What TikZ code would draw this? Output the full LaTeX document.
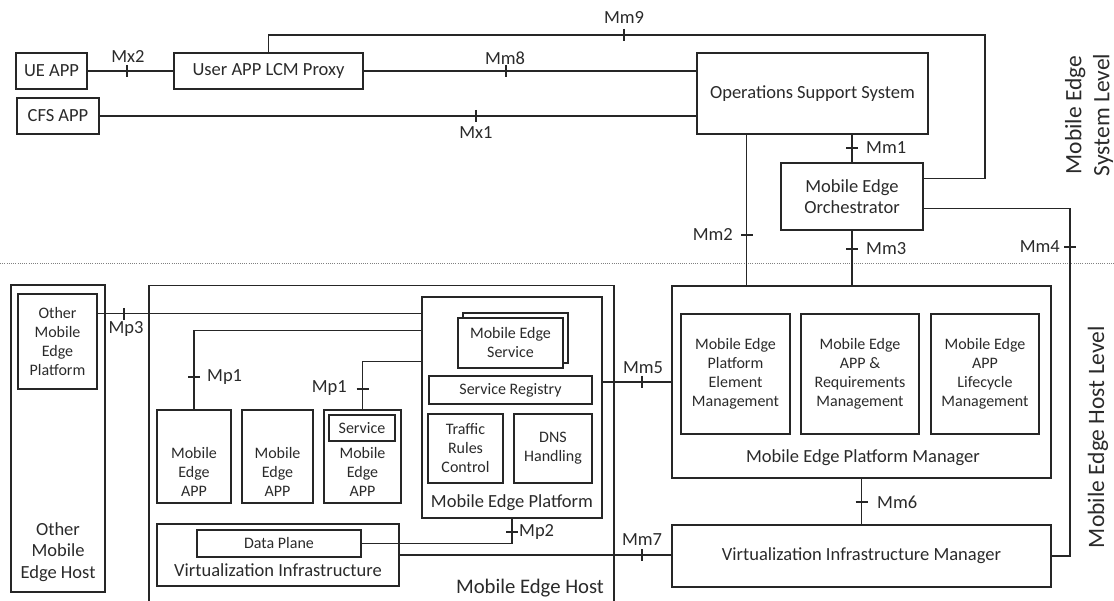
\documentclass[tikz,border=0pt]{standalone}
\usepackage{fontspec}
\setmainfont{Carlito}
\usetikzlibrary{calc}
\definecolor{ln}{HTML}{262626}
\definecolor{tx}{HTML}{2A2A2A}
\newcommand\fmain{\fontsize{18.5}{21.5}\selectfont}
\newcommand\finn{\fontsize{16}{19}\selectfont}
\newcommand\fhost{\fontsize{20.7}{24}\selectfont}
\newcommand\fside{\fontsize{23.5}{28}\selectfont}
\begin{document}
\begin{tikzpicture}[x=1pt,y=-1pt,
  box/.style={draw=ln, line width=1.5pt, rectangle, inner sep=0pt, align=center, text=tx, font=\fmain},
  ibox/.style={box, font=\finn},
  wire/.style={draw=ln, line width=1.4pt},
  tk/.style={draw=ln, line width=1.4pt},
  lbl/.style={text=tx, inner sep=0pt, font=\fmain, align=center}
]
\useasboundingbox (0,0) rectangle (1114,601);
\clip (0,0) rectangle (1114,601);

% ---------- system level ----------
\node[box, minimum width=71, minimum height=36] (ue) at (51.5,71) {UE APP};
\node[box, minimum width=189, minimum height=36] (proxy) at (268.5,71) {User APP LCM Proxy};
\node[box, minimum width=82, minimum height=36] (cfs) at (58,116) {CFS APP};
\node[box, minimum width=231, minimum height=81] (oss) at (812.5,93.5) {Operations Support System};
\node[box, minimum width=142, minimum height=67] (meo) at (852,196.5) {Mobile Edge\\Orchestrator};

% dotted separator
\draw[gray, line width=0.9pt, dash pattern=on 1pt off 1.2pt] (0,263) -- (1114,263);

% ---------- host level ----------
\node[box, minimum width=94, minimum height=307] (oh) at (58,438.5) {};
\node[lbl] (oht) at (58,552) {Other\\Mobile\\Edge Host};
\node[ibox, minimum width=79, minimum height=95] (omep) at (57.5,341.5) {Other\\Mobile\\Edge\\Platform};

\node[box, minimum width=465, minimum height=330, anchor=north west] (meh) at (148,285) {};
\node[lbl, font=\fhost] (meht) at (530,588) {Mobile Edge Host};

\node[box, minimum width=180, minimum height=221] (mep) at (512,407.5) {};
\node[lbl] (mept) at (512,503) {Mobile Edge Platform};
\node[ibox, minimum width=105, minimum height=50] (mesb) at (515.5,338) {};
\node[ibox, fill=white, minimum width=105, minimum height=50] (mes) at (510.5,343) {Mobile Edge\\Service};
\node[ibox, minimum width=163, minimum height=28] (sr) at (510.5,390) {Service Registry};
\node[ibox, minimum width=75, minimum height=69] (trc) at (465.5,448.5) {Traffic\\Rules\\Control};
\node[ibox, minimum width=78, minimum height=69] (dns) at (553,448.5) {DNS\\Handling};

\node[box, minimum width=74, minimum height=93] (app1) at (194,456.5) {};
\node[box, minimum width=71, minimum height=93] (app2) at (277.5,456.5) {};
\node[box, minimum width=77, minimum height=93] (app3) at (362.5,456.5) {};
\node[lbl, font=\finn] (a1t) at (194,472) {Mobile\\Edge\\APP};
\node[lbl, font=\finn] (a2t) at (277.5,472) {Mobile\\Edge\\APP};
\node[lbl, font=\finn] (a3t) at (362.5,472) {Mobile\\Edge\\APP};
\node[ibox, minimum width=66, minimum height=26] (svc) at (362,428) {Service};

\node[box, minimum width=242, minimum height=62] (vi) at (278,555) {};
\node[ibox, minimum width=164, minimum height=27] (dp) at (279,543.5) {Data Plane};
\node[lbl] (vit) at (278,570) {Virtualization Infrastructure};

\node[box, minimum width=379, minimum height=192] (mepm) at (861.5,382) {};
\node[ibox, minimum width=109, minimum height=120] (pem) at (735.5,374) {Mobile Edge\\Platform\\Element\\Management};
\node[ibox, minimum width=118, minimum height=120] (arm) at (860,374) {Mobile Edge\\APP \&\\Requirements\\Management};
\node[ibox, minimum width=108, minimum height=120] (alm) at (985,374) {Mobile Edge\\APP\\Lifecycle\\Management};
\node[lbl] (mepmt) at (863,458) {Mobile Edge Platform Manager};
\node[box, minimum width=379, minimum height=62] (vim) at (861.5,556) {Virtualization Infrastructure Manager};

% side labels
\node[lbl, font=\fside, rotate=90] (syslvl) at (1089,115) {Mobile Edge\\System Level};
\node[lbl, font=\fside, rotate=90] (hostlvl) at (1098,437) {Mobile Edge Host Level};

% ---------- connectors ----------
\coordinate (m9) at (985,35);
\coordinate (m4) at (1070,0);
\draw[wire] (ue) -- (proxy);
\draw[wire] (proxy.east) -- (proxy.east -| oss.west);
\draw[wire] (cfs.east) -- (cfs.east -| oss.west);
\draw[wire] (proxy.north) |- (m9) |- ($(meo.north east)+(0,16)$);
\draw[wire] (oss.south -| meo.north) -- (meo.north);
\draw[wire] ($(oss.south west)+(50,0)$) coordinate (m2) -- (m2 |- mepm.north);
\draw[wire] (meo.south) -- (meo.south |- mepm.north);
\draw[wire] ($(meo.north east)+(0,46)$) -| (m4 |- vim.east) -- (vim.east);

\draw[wire] ($(omep.north east)+(0,20)$) coordinate (p3) -- (p3 -| mep.west);
\draw[wire] (app1.north) |- ($(mep.north west)+(0,34)$);
\draw[wire] (app3.north) |- ($(mep.north west)+(0,65)$);
\draw[wire] (mep.south) |- (dp.east);
\draw[wire] (vi.east) -- (vi.east -| vim.west);
\draw[wire] (mepm.west) -- (mepm.west -| mep.east);
\draw[wire] (mepm.south) -- (vim.north);

% ---------- ticks ----------
\foreach \x/\y in {127/71, 506/71, 476/116, 624/35, 124/314, 642/382, 642/555}
  \draw[tk] (\x,\y-6) -- (\x,\y+6);
\foreach \x/\y in {512/532, 852/148, 747/235, 852/249, 1070/247, 194/377, 362.5/389, 861.5/502}
  \draw[tk] (\x-6,\y) -- (\x+6,\y);

% ---------- interface labels ----------
\node[lbl] (lmx2) at (128,57) {Mx2};
\node[lbl] (lmm8) at (505,58) {Mm8};
\node[lbl] (lmx1) at (476,133) {Mx1};
\node[lbl] (lmm9) at (624,18) {Mm9};
\node[lbl] (lmp3) at (126,329) {Mp3};
\node[lbl] (lmm5) at (643,368) {Mm5};
\node[lbl] (lmm7) at (642,540) {Mm7};
\node[lbl, anchor=west] (lmp2) at (519,532) {Mp2};
\node[lbl, anchor=west] (lmm1) at (866,148) {Mm1};
\node[lbl, anchor=east] (lmm2) at (733,235) {Mm2};
\node[lbl, anchor=west] (lmm3) at (866,249) {Mm3};
\node[lbl, anchor=east] (lmm4) at (1060,247) {Mm4};
\node[lbl, anchor=west] (lmp1a) at (207,377) {Mp1};
\node[lbl, anchor=east] (lmp1b) at (347,388) {Mp1};
\node[lbl, anchor=west] (lmm6) at (877,502) {Mm6};
\end{tikzpicture}
\end{document}
